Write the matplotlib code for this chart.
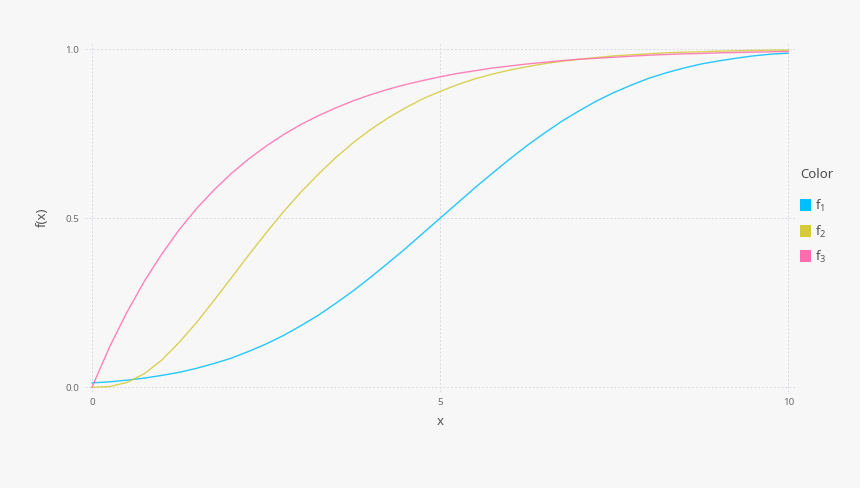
import matplotlib
matplotlib.use("Agg")
import matplotlib.pyplot as plt
from matplotlib.patches import Rectangle

plt.rcParams['font.family'] = ['Noto Sans', 'DejaVu Sans']
plt.rcParams['mathtext.fontset'] = 'custom'
plt.rcParams['mathtext.rm'] = 'Noto Sans'
plt.rcParams['mathtext.it'] = 'Noto Sans'

# values, step 0.25
x = [i * 0.25 for i in range(41)]
f1 = [0.013, 0.016, 0.021, 0.027, 0.035, 0.044, 0.056, 0.070, 0.086, 0.106,
      0.128, 0.153, 0.182, 0.213, 0.248, 0.285, 0.325, 0.367, 0.410, 0.455,
      0.500, 0.545, 0.590, 0.633, 0.675, 0.715, 0.752, 0.787, 0.818, 0.847,
      0.872, 0.894, 0.914, 0.930, 0.944, 0.956, 0.965, 0.973, 0.980, 0.985,
      0.988]
f2 = [0.000, 0.002, 0.014, 0.040, 0.080, 0.132, 0.191, 0.256, 0.323, 0.391,
      0.456, 0.519, 0.577, 0.630, 0.679, 0.723, 0.762, 0.796, 0.826, 0.853,
      0.875, 0.895, 0.912, 0.926, 0.938, 0.948, 0.957, 0.964, 0.970, 0.975,
      0.980, 0.983, 0.986, 0.989, 0.991, 0.992, 0.994, 0.995, 0.996, 0.997,
      0.997]
f3 = [0.000, 0.118, 0.221, 0.313, 0.393, 0.465, 0.528, 0.583, 0.632, 0.675,
      0.713, 0.747, 0.777, 0.803, 0.826, 0.847, 0.865, 0.881, 0.895, 0.907,
      0.918, 0.928, 0.936, 0.944, 0.950, 0.956, 0.961, 0.966, 0.970, 0.973,
      0.976, 0.979, 0.982, 0.984, 0.986, 0.987, 0.989, 0.990, 0.991, 0.992,
      0.993]
names = ['f$_1$', 'f$_2$', 'f$_3$']
colors = ['#00BFFF', '#D4CA3A', '#FF6DAE']

bg = '#f7f7f7'
fig = plt.figure(figsize=(8.6, 4.88), dpi=100, facecolor=bg)
ax = fig.add_axes([85 / 860, 1 - 392 / 488, 711 / 860, 349 / 488])
ax.set_facecolor(bg)

for ys, c in zip([f1, f2, f3], colors):
    ax.plot(x, ys, color=c, lw=1.0, alpha=0.85, solid_capstyle='round')

ax.set_xlim(-0.1, 10.11)
ax.set_ylim(-0.014, 1.018)
ax.set_xticks([0, 5, 10])
ax.set_yticks([0.0, 0.5, 1.0])
ax.set_xticklabels(['0', '5', '10'])
ax.set_yticklabels(['0.0', '0.5', '1.0'])
for s in ax.spines.values():
    s.set_visible(False)
ax.grid(True, color='#d8d8e0', lw=0.7, linestyle=(0, (2, 2)))
ax.set_axisbelow(True)
ax.tick_params(length=0, labelsize=7, labelcolor='#6c6c6c', pad=4)

ax.set_xlabel('x', fontsize=9.5, color='#565656', labelpad=6)
ax.set_ylabel('f(x)', fontsize=9.5, color='#565656', labelpad=12)

# legend on the right
fig.text(800 / 860, 1 - 174 / 488, 'Color', fontsize=9.5, color='#4c4c4c',
         ha='left', va='center')
for i, (name, c) in enumerate(zip(names, colors)):
    yc = 205 + i * 25.5
    fig.add_artist(Rectangle((800 / 860, 1 - (yc + 6) / 488), 11 / 860, 12 / 488,
                             transform=fig.transFigure, color=c, lw=0))
    fig.text(815 / 860, 1 - (yc + 1) / 488, name, fontsize=9.5, color='#565656',
             ha='left', va='center')

fig.savefig('out.png', dpi=100, facecolor=bg)
